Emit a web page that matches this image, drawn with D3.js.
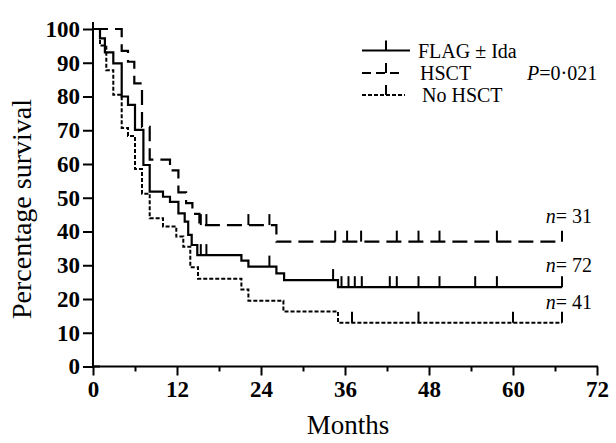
<!DOCTYPE html>
<html><head><meta charset="utf-8">
<script src="https://cdn.jsdelivr.net/npm/d3@7"></script>
<style>
html,body{margin:0;padding:0;background:#fff;}
svg text{font-family:"Liberation Serif","Times New Roman",serif;fill:#000;}
</style></head>
<body><svg id="c" width="616" height="443"></svg>
<script>
// ---- data ----
const seriesNames = ["FLAG ± Ida", "HSCT", "No HSCT"];
const flagSteps = [[0,100],[1.0,97.2],[1.7,93.1],[2.9,89.8],[4.1,80.0],[5.0,77.5],[6.0,70.1],[7.2,59.7],[8.1,51.8],[10.0,50.3],[11.0,48.8],[12.2,45.4],[13.1,42.9],[13.6,39.0],[14.1,36.0],[14.9,33.0],[21.2,31.4],[22.2,29.6],[26.2,27.6],[27.3,25.6],[35.0,23.5],[67,23.5]];
const flagCensor = [15.4,16.2,25.2,34.3,35.5,36.5,37.4,38.4,42.4,43.4,46.5,49.5,54.6,57.7,67];
const hsctSteps = [[0,100],[4.1,93.5],[5.0,90.3],[5.9,83.9],[7.0,71.0],[8.1,61.3],[11.0,58.1],[12.2,51.6],[13.3,48.4],[14.2,45.2],[15.2,41.9],[26.2,37.0],[67,37.0]];
const hsctCensor = [15.4,16.2,22.2,25.2,34.6,36.3,38.3,43.4,46.5,49.5,57.7,67];
const noSteps = [[0,100],[1.0,95.1],[1.9,87.8],[2.9,80.5],[4.1,70.7],[5.0,68.3],[6.0,58.5],[7.0,51.2],[8.1,43.9],[10.0,41.5],[11.9,38.5],[12.9,35.5],[13.9,29.4],[15.0,26.0],[21.2,22.8],[22.2,19.5],[27.2,16.3],[35.0,13.0],[67,13.0]];
const noCensor = [37.0,46.5,60.0,67];
const nLabels = ["n = 31","n = 72","n = 41"];
const xTicks = [0,12,24,36,48,60,72];
const xMinor = [6,18,30,42,54,66];
const yTicks = [0,10,20,30,40,50,60,70,80,90,100];

const svg = d3.select("#c");
const x = d3.scaleLinear().domain([0,72]).range([93,597]);
const y = d3.scaleLinear().domain([0,100]).range([366.5,29]);

// axes
const gy = svg.append("g").attr("transform","translate(93,0)")
  .call(d3.axisLeft(y).tickValues(yTicks).tickSize(10).tickPadding(3));
gy.select(".domain").remove();
gy.selectAll(".tick line").attr("stroke","#000").attr("stroke-width",2);
gy.selectAll(".tick text").attr("font-size",23).attr("font-weight","bold").attr("font-family","Liberation Serif");
svg.append("line").attr("x1",93).attr("x2",93).attr("y1",22).attr("y2",367.5).attr("stroke","#000").attr("stroke-width",2);
[0,100].forEach(v=>svg.append("line").attr("x1",93).attr("x2",100).attr("y1",y(v)).attr("y2",y(v)).attr("stroke","#000").attr("stroke-width",2));

const gx = svg.append("g").attr("transform","translate(0,366.5)")
  .call(d3.axisBottom(x).tickValues(xTicks).tickSize(9).tickPadding(5));
gx.select(".domain").remove();
gx.selectAll(".tick line").attr("stroke","#000").attr("stroke-width",2);
gx.selectAll(".tick text").attr("font-size",23).attr("font-weight","bold").attr("font-family","Liberation Serif");
const gm = svg.append("g").attr("transform","translate(0,366.5)")
  .call(d3.axisBottom(x).tickValues(xMinor).tickSize(5).tickFormat(""));
gm.select(".domain").remove();
gm.selectAll(".tick line").attr("stroke","#000").attr("stroke-width",2);
svg.append("line").attr("x1",92).attr("x2",598).attr("y1",366.5).attr("y2",366.5).attr("stroke","#000").attr("stroke-width",2);

// labels
svg.append("text").attr("transform","translate(31,209) rotate(-90)").attr("text-anchor","middle")
  .attr("font-size",28).text("Percentage survival");
svg.append("text").attr("x",348).attr("y",434).attr("text-anchor","middle").attr("font-size",27).text("Months");

// curves
const styles = [
  {steps:flagSteps, cens:flagCensor, dash:null, w:2.2},
  {steps:hsctSteps, cens:hsctCensor, dash:"15,7", w:2.2},
  {steps:noSteps, cens:noCensor, dash:"4,2", w:2}
];
const line = d3.line().x(d=>x(d[0])).y(d=>y(d[1])).curve(d3.curveStepAfter);
function valAt(steps,t){let v=steps[0][1];for(const s of steps){if(s[0]<=t+1e-9)v=s[1];}return v;}
styles.forEach(s=>{
  svg.append("path").datum(s.steps).attr("d",line).attr("fill","none").attr("stroke","#000")
    .attr("stroke-width",s.w).attr("stroke-dasharray",s.dash);
  svg.append("g").selectAll("line").data(s.cens).join("line")
    .attr("x1",d=>x(d)).attr("x2",d=>x(d))
    .attr("y1",d=>y(valAt(s.steps,d))).attr("y2",d=>y(valAt(s.steps,d))-11)
    .attr("stroke","#000").attr("stroke-width",2);
});

// n labels
const nY = [223, 272, 309];
nLabels.forEach((t,i)=>{
  const parts = t.split(" ");
  const tx = svg.append("text").attr("x",592).attr("y",nY[i]).attr("text-anchor","end").attr("font-size",20);
  tx.append("tspan").attr("font-style","italic").text("n");
  tx.append("tspan").text("= " + parts[2]);
});

// legend
const legY = [50.5, 73, 95];
const legX1 = 362, legX2 = [410, 401, 405];
styles.forEach((s,i)=>{
  svg.append("line").attr("x1",legX1).attr("x2",legX2[i]).attr("y1",legY[i]).attr("y2",legY[i])
    .attr("stroke","#000").attr("stroke-width",s.w).attr("stroke-dasharray", i===1?"9,5":s.dash);
  svg.append("line").attr("x1",386).attr("x2",386).attr("y1",legY[i]).attr("y2",legY[i]-10)
    .attr("stroke","#000").attr("stroke-width",2);
  svg.append("text").attr("x",[418,420,422][i]).attr("y",legY[i]+7).attr("font-size",20).text(seriesNames[i]);
});
const pt = svg.append("text").attr("x",527).attr("y",80).attr("font-size",20);
pt.append("tspan").attr("font-style","italic").text("P");
pt.append("tspan").text("=0·021");
</script></body></html>
